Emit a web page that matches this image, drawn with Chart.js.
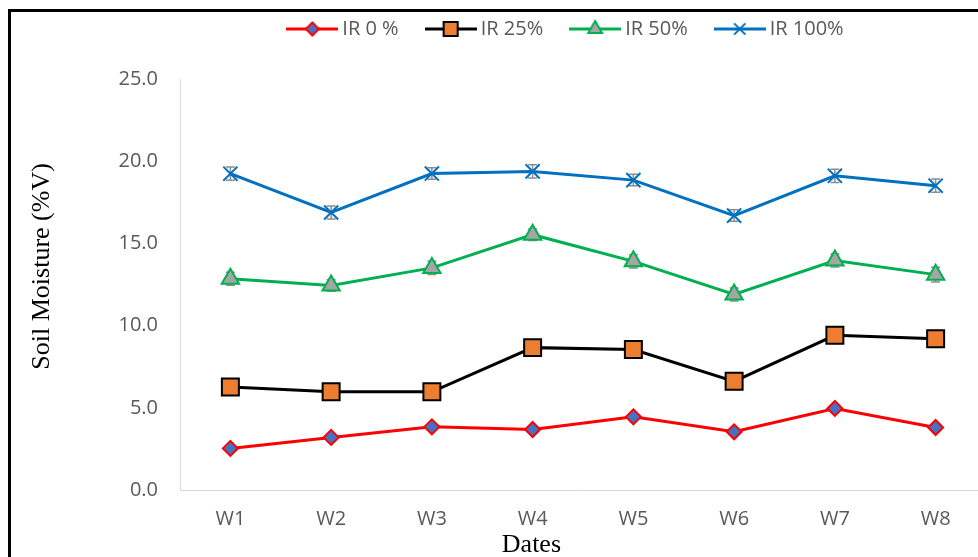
<!DOCTYPE html>
<html>
<head>
<meta charset="utf-8">
<title>Soil Moisture</title>
<script src="https://cdn.jsdelivr.net/npm/chart.js@4.4.1/dist/chart.umd.min.js"></script>
<style>
  html, body { margin: 0; padding: 0; background: #fff; width: 978px; height: 557px; overflow: hidden; }
  #frame { position: absolute; left: 8px; top: 9px; width: 1100px; height: 700px;
           border-top: 3px solid #000; border-left: 3px solid #000; }
  #wrap { position: absolute; left: 0; top: 0; width: 1000px; height: 557px; }
</style>
</head>
<body>
<div id="frame"></div>
<div id="wrap"><canvas id="chart"></canvas></div>
<script>
// Weekly soil moisture (%V) under four irrigation levels
const weeks = ['W1', 'W2', 'W3', 'W4', 'W5', 'W6', 'W7', 'W8'];
const ir0   = [2.53, 3.20, 3.84, 3.68, 4.45, 3.54, 4.96, 3.80];
const ir25  = [6.27, 5.97, 5.97, 8.66, 8.54, 6.61, 9.41, 9.20];
const ir50  = [12.85, 12.44, 13.51, 15.53, 13.91, 11.89, 13.96, 13.10];
const ir100 = [19.24, 16.88, 19.25, 19.38, 18.85, 16.69, 19.11, 18.51];
// standard error of the mean
const ir50Err  = [0.40, 0.35, 0.40, 0.35, 0.40, 0.40, 0.40, 0.45];
const ir100Err = [0.40, 0.40, 0.35, 0.40, 0.35, 0.35, 0.40, 0.40];
const yTicks = [0, 5, 10, 15, 20, 25];

const seriesNames = ['IR 0 %', 'IR 25%', 'IR 50%', 'IR 100%'];
const styles = [
  { line: '#FF0000', fill: '#4472C4', border: '#FF0000', shape: 'rectRot',  r: 7.5, lr: 6.5, bw: 2 },
  { line: '#000000', fill: '#ED7D31', border: '#000000', shape: 'rect',     r: 12,  lr: 10,  bw: 2 },
  { line: '#00B050', fill: '#A5A5A5', border: '#00B050', shape: 'triangle', r: 10,  lr: 8,   bw: 2 },
  { line: '#0070C0', fill: '#0070C0', border: '#0070C0', shape: 'crossRot', r: 10,  lr: 8,   bw: 2 }
];

// legend swatch: short line segment with the series marker on it
function swatch(st) {
  const c = document.createElement('canvas');
  c.width = 52; c.height = 24;
  const g = c.getContext('2d');
  g.strokeStyle = st.line; g.lineWidth = 3;
  g.beginPath(); g.moveTo(0, 12); g.lineTo(52, 12); g.stroke();
  g.fillStyle = st.fill; g.strokeStyle = st.border; g.lineWidth = st.bw;
  Chart.helpers.drawPoint(g, { pointStyle: st.shape, radius: st.lr, rotation: 0, borderWidth: st.bw }, 26, 12);
  return c;
}

const values = [ir0, ir25, ir50, ir100];
const errs = [null, null, ir50Err, ir100Err];
const datasets = values.map((v, i) => ({
  label: seriesNames[i],
  data: v,
  errors: errs[i],
  borderColor: styles[i].line,
  borderWidth: 3,
  backgroundColor: styles[i].fill,
  pointStyle: styles[i].shape,
  pointRadius: styles[i].r,
  pointBackgroundColor: styles[i].fill,
  pointBorderColor: styles[i].border,
  pointBorderWidth: styles[i].bw,
  tension: 0,
  order: 4 - i
}));

const swatches = styles.map(swatch);

// gray error bars with caps, drawn under the series
const errorBars = {
  id: 'errorBars',
  beforeDatasetsDraw(chart) {
    const { ctx } = chart;
    const y = chart.scales.y;
    chart.data.datasets.forEach((ds, i) => {
      if (!ds.errors) return;
      const meta = chart.getDatasetMeta(i);
      ctx.save();
      ctx.strokeStyle = '#8C8C8C';
      ctx.lineWidth = 1.5;
      meta.data.forEach((pt, j) => {
        const top = y.getPixelForValue(ds.data[j] + ds.errors[j]);
        const bot = y.getPixelForValue(ds.data[j] - ds.errors[j]);
        ctx.beginPath();
        ctx.moveTo(pt.x, top); ctx.lineTo(pt.x, bot);
        ctx.moveTo(pt.x - 4.5, top); ctx.lineTo(pt.x + 4.5, top);
        ctx.moveTo(pt.x - 4.5, bot); ctx.lineTo(pt.x + 4.5, bot);
        ctx.stroke();
      });
      ctx.restore();
    });
  }
};

// axis captions in Times-style serif
const axisCaptions = {
  id: 'axisCaptions',
  afterDraw(chart, args, opts) {
    const { ctx, chartArea: a } = chart;
    ctx.save();
    ctx.font = opts.font;
    ctx.fillStyle = opts.color;
    ctx.textAlign = 'center';
    ctx.textBaseline = 'middle';
    ctx.fillText(opts.xText, a.left + opts.xPos * (a.right - a.left), a.bottom + opts.xGap);
    ctx.translate(a.left - opts.yGap, a.top + opts.yPos * (a.bottom - a.top));
    ctx.rotate(-Math.PI / 2);
    ctx.fillText(opts.yText, 0, 0);
    ctx.restore();
  }
};

// legend: extra room below it, and centred over the visible panel
const legendPlace = {
  id: 'legendPlace',
  beforeInit(chart) {
    const fit = chart.legend.fit;
    chart.legend.fit = function () {
      fit.call(this);
      this.height += 14;
    };
  },
  afterLayout(chart, args, opts) {
    const l = chart.legend;
    const dx = opts.center - (l.left + l.right) / 2;
    l.left += dx;
    l.right += dx;
    l.top += opts.dy;
    l.bottom += opts.dy;
  }
};

new Chart(document.getElementById('chart'), {
  type: 'line',
  data: { labels: weeks, datasets },
  plugins: [errorBars, axisCaptions, legendPlace],
  options: {
    responsive: true,
    maintainAspectRatio: false,
    animation: false,
    layout: { padding: { left: 0, right: 4, top: 3, bottom: 0 } },
    plugins: {
      legend: {
        position: 'top',
        labels: {
          usePointStyle: true,
          pointStyleWidth: 40,
          boxHeight: 20,
          padding: 32,
          color: '#595959',
          font: { family: 'Open Sans', size: 20 },
          generateLabels(chart) {
            return chart.data.datasets.map((ds, i) => ({
              text: ds.label,
              pointStyle: swatches[i],
              fillStyle: ds.backgroundColor,
              strokeStyle: ds.borderColor,
              lineWidth: 0,
              fontColor: '#595959',
              hidden: false,
              datasetIndex: i
            }));
          }
        }
      },
      legendPlace: { center: 568, dy: -16 },
      tooltip: { enabled: false },
      axisCaptions: {
        font: '26px "Liberation Serif", "Times New Roman", serif',
        color: '#000',
        xText: 'Dates',
        xPos: 0.436,
        xGap: 55,
        yText: 'Soil Moisture (%V)',
        yPos: 0.456,
        yGap: 138
      }
    },
    scales: {
      x: {
        offset: true,
        grid: { display: false, drawTicks: false },
        border: { display: true, color: '#D9D9D9', width: 1 },
        ticks: { color: '#595959', font: { family: 'Open Sans', size: 20 }, padding: 17, maxRotation: 0 },
        afterFit(s) { s.height = 67; }
      },
      y: {
        min: 0,
        max: 25,
        afterBuildTicks(s) { s.ticks = yTicks.map(v => ({ value: v })); },
        grid: { display: false, drawTicks: false },
        border: { display: true, color: '#D9D9D9', width: 1 },
        ticks: {
          color: '#595959',
          font: { family: 'Open Sans', size: 20 },
          padding: 22,
          callback: v => Number(v).toFixed(1)
        },
        afterFit(s) { s.width = 180; }
      }
    }
  }
});
</script>
</body>
</html>
